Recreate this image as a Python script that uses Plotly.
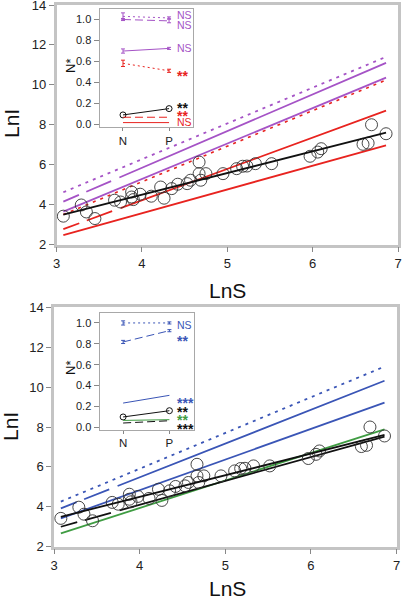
import plotly.graph_objects as go

W, H = 402, 601

# ---------------- data ----------------
lnS = [3.08, 3.29, 3.35, 3.45, 3.68, 3.75, 3.88, 3.88, 3.90, 3.98, 4.11, 4.22, 4.26,
       4.35, 4.42, 4.53, 4.57, 4.67, 4.67, 4.69, 4.75, 4.95, 5.11, 5.18, 5.23, 5.33,
       5.52, 5.97, 6.06, 6.10, 6.59, 6.65, 6.69, 6.86]
lnI = [3.42, 3.98, 3.63, 3.30, 4.22, 4.13, 4.63, 4.38, 4.25, 4.52, 4.42, 4.88, 4.32,
       4.80, 5.02, 5.05, 5.22, 6.13, 5.55, 5.22, 5.55, 5.55, 5.80, 5.92, 5.93, 6.05,
       6.05, 6.42, 6.63, 6.80, 7.02, 7.08, 8.00, 7.55]

fit_x = [3.08, 6.86]
# top panel fitted lines (LnI at fit_x)
purple_dot = [4.62, 11.40]
purple_dash = [4.15, 11.10]
purple_solid = [3.65, 10.36]
red_dot = [3.50, 10.24]
red_dash = [2.77, 8.71]
red_solid = [2.47, 6.97]
black_fit = [3.50, 7.60]
# bottom panel fitted lines
blue_dot = [4.26, 11.03]
blue_dash = [3.92, 10.32]
blue_solid = [3.42, 9.22]
black_dash = [3.00, 7.52]
green_solid = [2.67, 7.88]

# inset data (N, P)
inset_x = [0, 1]
inset_labels = ["N", "P"]
# top inset
in_purple_dot = [1.03, 1.015]; in_purple_dot_err = [0.033, 0.010]
in_purple_dash = [1.00, 0.987]; in_purple_dash_err = [0.010, 0.018]
in_purple_solid = [0.70, 0.725]; in_purple_solid_err = [0.020, 0.010]
in_red_dot = [0.583, 0.512]; in_red_dot_err = [0.030, 0.015]
in_black = [0.092, 0.152]
in_red_dash = [0.070, 0.070]
in_red_solid = [0.019, 0.019]
top_sig = ["NS", "NS", "NS", "**", "**", "**", "NS"]
top_sig_y = [1.04, 0.943, 0.73, 0.503, 0.196, 0.118, 0.026]
# bottom inset
in_blue_dot = [1.00, 1.00]; in_blue_dot_err = [0.020, 0.010]
in_blue_dash = [0.818, 0.926]; in_blue_dash_err = [0.015, 0.010]
in_blue_solid = [0.233, 0.307]
in_black2 = [0.100, 0.160]
in_green = [0.067, 0.074]
in_black_dash = [0.042, 0.064]
bot_sig = ["NS", "**", "***", "**", "**", "***"]
bot_sig_y = [0.983, 0.862, 0.272, 0.186, 0.105, 0.023]

# ---------------- styles ----------------
PURPLE = "#a553c6"
RED = "#e8231f"
BLUE = "#3a55b6"
GREEN = "#3f9c42"
BLACK = "#111111"
LONGDASH = "17px,8px,27px,9px,2000px"
DOT = "3px,5px"
FONT = "Liberation Sans, Arial, sans-serif"

fig = go.Figure()


def px_x(a, b):
    return [a / W, b / W]


def px_y(top, bottom):
    return [1 - bottom / H, 1 - top / H]


def line(xs, ys, color, dash="solid", width=1.8, xa="x", ya="y"):
    fig.add_trace(go.Scatter(x=xs, y=ys, mode="lines", xaxis=xa, yaxis=ya,
                             line=dict(color=color, width=width, dash=dash),
                             showlegend=False, hoverinfo="skip"))


def inset_line(ys, color, dash="solid", err=None, xa="x2", ya="y2", markers=False):
    kw = {}
    if err is not None:
        kw["error_y"] = dict(type="data", array=err, visible=True, color=color,
                             thickness=1, width=2)
    fig.add_trace(go.Scatter(
        x=inset_x, y=ys, xaxis=xa, yaxis=ya,
        mode="lines+markers" if markers else "lines",
        line=dict(color=color, width=1, dash=dash),
        marker=dict(symbol="circle-open", size=6, color=color,
                    line=dict(color=color, width=1)) if markers else None,
        showlegend=False, hoverinfo="skip", **kw))


def circles(xa, ya):
    fig.add_trace(go.Scatter(x=lnS, y=lnI, mode="markers", xaxis=xa, yaxis=ya,
                             marker=dict(symbol="circle-open", size=12, color="#333",
                                         line=dict(color="#333", width=0.9)),
                             showlegend=False, hoverinfo="skip"))


# ---- top main ----
line(fit_x, purple_dot, PURPLE, DOT, 1.8)
line(fit_x, purple_dash, PURPLE, LONGDASH, 1.8)
line(fit_x, purple_solid, PURPLE, "solid", 1.8)
line(fit_x, red_dot, RED, DOT, 1.6)
line(fit_x, red_dash, RED, LONGDASH, 1.8)
line(fit_x, red_solid, RED, "solid", 1.8)
circles("x", "y")
line(fit_x, black_fit, BLACK, "solid", 1.8)

# ---- top inset ----
inset_line(in_purple_dot, PURPLE, "2px,3px", in_purple_dot_err)
inset_line(in_purple_dash, PURPLE, "8px,4px", in_purple_dash_err)
inset_line(in_purple_solid, PURPLE, "solid", in_purple_solid_err)
inset_line(in_red_dot, RED, "2px,3px", in_red_dot_err)
inset_line(in_black, BLACK, "solid", markers=True)
inset_line(in_red_dash, RED, "8px,4px")
inset_line(in_red_solid, RED, "solid")

# ---- bottom main ----
line(fit_x, blue_dot, BLUE, DOT, 1.8, "x3", "y3")
line(fit_x, blue_dash, BLUE, LONGDASH, 1.8, "x3", "y3")
line(fit_x, blue_solid, BLUE, "solid", 1.8, "x3", "y3")
line(fit_x, green_solid, GREEN, "solid", 1.8, "x3", "y3")
line(fit_x, black_dash, BLACK, LONGDASH, 1.8, "x3", "y3")
circles("x3", "y3")
line(fit_x, black_fit, BLACK, "solid", 1.8, "x3", "y3")

# ---- bottom inset ----
inset_line(in_blue_dot, BLUE, "2px,3px", in_blue_dot_err, "x4", "y4")
inset_line(in_blue_dash, BLUE, "8px,4px", in_blue_dash_err, "x4", "y4")
inset_line(in_blue_solid, BLUE, "solid", None, "x4", "y4")
inset_line(in_black2, BLACK, "solid", None, "x4", "y4", markers=True)
inset_line(in_green, GREEN, "solid", None, "x4", "y4")
inset_line(in_black_dash, BLACK, "8px,4px", None, "x4", "y4")

main_ax = dict(showline=True, mirror=True, linecolor="#c4c4c4", linewidth=2.5,
               ticks="outside", ticklen=5, tickcolor="#888", tickwidth=1,
               showgrid=False, zeroline=False, automargin=False,
               ticklabeloverflow="allow",
               tickfont=dict(family=FONT, size=13, color="#222"))
inset_ax = dict(showline=True, mirror=True, linecolor="#a8a8a8", linewidth=1,
                ticks="outside", tickcolor="#888", tickwidth=1,
                showgrid=False, zeroline=False, automargin=False,
                ticklabeloverflow="allow",
                tickfont=dict(family=FONT, size=11, color="#222"))

fig.update_layout(
    width=W, height=H, autosize=False, margin=dict(l=0, r=0, t=0, b=0, pad=0),
    paper_bgcolor="white", plot_bgcolor="white", showlegend=False,
    font=dict(family=FONT, color="#222"),
    xaxis=dict(main_ax, domain=px_x(56.5, 398), range=[3, 7],
               tickvals=[3, 4, 5, 6, 7], anchor="y"),
    yaxis=dict(main_ax, domain=px_y(5, 244.5), range=[2, 14],
               tickvals=[2, 4, 6, 8, 10, 12, 14], anchor="x"),
    xaxis2=dict(inset_ax, domain=px_x(99.5, 193), range=[-0.51, 1.52],
                tickvals=inset_x, ticktext=inset_labels, ticklen=3, anchor="y2",
                tickfont=dict(family=FONT, size=11.5, color="#222")),
    yaxis2=dict(inset_ax, domain=px_y(9, 126.7), range=[-0.02, 1.10],
                tickvals=[0, 0.2, 0.4, 0.6, 0.8, 1.0], tickformat=".1f",
                ticklen=5, anchor="x2"),
    xaxis3=dict(main_ax, domain=px_x(54, 396.5), range=[3, 7],
                tickvals=[3, 4, 5, 6, 7], anchor="y3"),
    yaxis3=dict(main_ax, domain=px_y(307.3, 546.7), range=[2, 14],
                tickvals=[2, 4, 6, 8, 10, 12, 14], anchor="x3"),
    xaxis4=dict(inset_ax, domain=px_x(99.5, 193.5), range=[-0.51, 1.52],
                tickvals=inset_x, ticktext=inset_labels, ticklen=3, anchor="y4",
                tickfont=dict(family=FONT, size=11.5, color="#222")),
    yaxis4=dict(inset_ax, domain=px_y(312.5, 429.5), range=[-0.02, 1.10],
                tickvals=[0, 0.2, 0.4, 0.6, 0.8, 1.0], tickformat=".1f",
                ticklen=5, anchor="x4"),
)

ann = []
# axis titles
for txt, x, y, ang in [("LnI", 11, 124, -90), ("LnS", 227, 290, 0),
                       ("LnI", 10, 427, -90), ("LnS", 227, 588, 0)]:
    ann.append(dict(text=txt, x=x / W, y=1 - y / H, xref="paper", yref="paper",
                    showarrow=False, textangle=ang, xanchor="center", yanchor="middle",
                    font=dict(family=FONT, size=21, color="#111")))
for y in [66, 368]:
    ann.append(dict(text="N*", x=70 / W, y=1 - y / H, xref="paper", yref="paper",
                    showarrow=False, textangle=-90, xanchor="center", yanchor="middle",
                    font=dict(family=FONT, size=13, color="#111")))

top_cols = [PURPLE, PURPLE, PURPLE, RED, BLACK, RED, RED]
for t, y, c in zip(top_sig, top_sig_y, top_cols):
    star = t.startswith("*")
    ann.append(dict(text="<b>" + t + "</b>" if star else t, x=1.13, y=y,
                    xref="x2", yref="y2", showarrow=False,
                    xanchor="left", yanchor="middle", yshift=-4 if star else 0,
                    font=dict(family=FONT, size=14 if star else 10.5, color=c)))
bot_cols = [BLUE, BLUE, BLUE, BLACK, GREEN, BLACK]
for t, y, c in zip(bot_sig, bot_sig_y, bot_cols):
    star = t.startswith("*")
    ann.append(dict(text="<b>" + t + "</b>" if star else t, x=1.11, y=y,
                    xref="x4", yref="y4", showarrow=False,
                    xanchor="left", yanchor="middle", yshift=-4 if star else 0,
                    font=dict(family=FONT, size=14 if star else 10.5, color=c)))
fig.update_layout(annotations=ann)

fig.write_html("out.html", config={"displayModeBar": False},
               post_script="document.body.style.margin='0';document.body.style.overflow='hidden';")
